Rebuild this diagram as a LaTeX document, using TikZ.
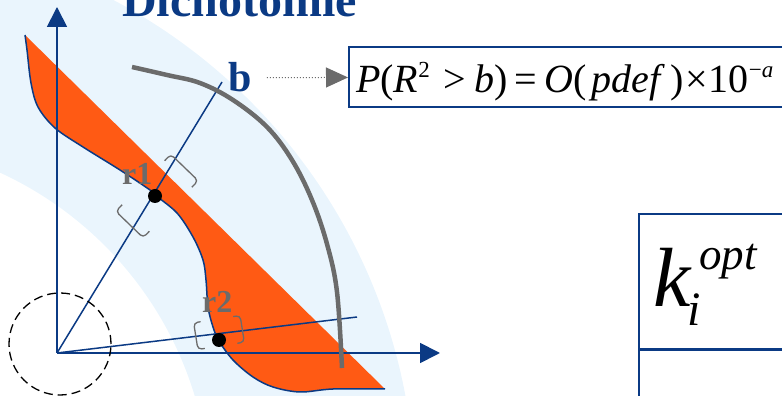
\documentclass[tikz,border=0pt]{standalone}
\usepackage{fontspec}
\setmainfont{Liberation Serif}
\usetikzlibrary{arrows.meta}
\definecolor{axisblue}{HTML}{0B3A84}
\definecolor{bandorange}{HTML}{FF5A14}
\definecolor{curvegray}{HTML}{6B6B6B}
\definecolor{bgblue}{HTML}{EAF5FD}
\newcommand{\bandcurve}{plot[smooth,tension=0.55] coordinates {(25,361) (27,346) (31,313) (38,289) (55,268) (83,249) (120,226) (150,206) (155,201) (177,183) (193,159) (203,136) (206,116) (208,89) (213,69) (219,55) (233,36) (253,19) (273,9) (300,4) (333,7) (385,7)}}
\newcommand{\sups}[1]{\raisebox{15pt}{\fontsize{23}{23}\selectfont #1}}

\begin{document}
\begin{tikzpicture}[x=1pt,y=1pt,
  ax/.style={draw=axisblue,line width=1.8pt,-{Triangle[length=20pt,width=20pt]}},
  ray/.style={draw=axisblue,line width=1.5pt},
  brk/.style={draw=curvegray,line width=1.3pt,rounded corners=4pt},
  rlbl/.style={text=curvegray,font=\bfseries\fontsize{32}{32}\selectfont,anchor=base west,inner sep=0pt},
  hit/.style={circle,fill=black,minimum size=14pt,inner sep=0pt},
  cell/.style={draw=axisblue,line width=1.8pt,inner sep=0pt},
]
\useasboundingbox (0,0) rectangle (782,396);
% background band
\fill[bgblue,even odd rule] (-150,-104) circle (565pt) (-150,-104) circle (360pt);
% orange region
\fill[bandorange] \bandcurve -- cycle;
\draw[axisblue,line width=1.5pt] \bandcurve;
% axes and rays
\coordinate (O) at (57,43);
\coordinate (ytip) at (57,389);
\coordinate (xtip) at (440,43);
\coordinate (bend) at (222,314);
\coordinate (rend) at (357,79);
\draw[ax] (O) -- (ytip);
\draw[ax] (O) -- (xtip);
\draw[ray] (O) -- (bend);
\draw[ray] (O) -- (rend);
% limit curve
\draw[curvegray,line width=4.5pt] plot[smooth,tension=0.6] coordinates {(132,329) (167,321) (200,313) (233,296) (267,269) (292,236) (312,196) (327,152) (337,104) (342,28)};
% neighbourhood of the origin
\draw[black,line width=1.3pt,dash pattern=on 9pt off 5pt] (60,52) circle (51pt);
% intersection points
\node[hit] (r1) at (155,200) {};
\node[hit] (r2) at (219,56) {};
\begin{scope}[shift={(157,200)},rotate=46]
  \foreach \s in {1,-1}{\draw[brk] (\s*39.6-\s*9,19) -- (\s*39.6,19) -- (\s*39.6,-19) -- (\s*39.6-\s*9,-19);}
\end{scope}
\begin{scope}[shift={(219,63.5)},rotate=9]
  \foreach \s in {1,-1}{\draw[brk] (\s*23.5-\s*7,13.5) -- (\s*23.5,13.5) -- (\s*23.5,-13.5) -- (\s*23.5-\s*7,-13.5);}
\end{scope}
\node[rlbl] (r1lbl) at (122,211) {r1};
\node[rlbl] (r2lbl) at (202,83) {r2};
% title and labels
\node[anchor=base west,inner sep=0pt,text=axisblue,font=\bfseries\fontsize{48}{48}\selectfont] (title) at (122,379) {Dichotomie};
\node[anchor=base west,inner sep=0pt,text=axisblue,font=\bfseries\fontsize{42}{42}\selectfont] (blbl) at (228,304) {b};
% probability box
\node[cell,minimum width=460pt,minimum height=60pt,anchor=south west] (fbox) at (348,288) {};
\node[anchor=base west,inner sep=0pt,font=\fontsize{40}{42}\selectfont] (prob) at (356,303)
  {\textit{P}(\textit{R}\sups{2}\hspace{14pt}>\hspace{8pt}\textit{b})\hspace{7pt}=\hspace{7pt}\textit{O}(\hspace{5pt}\textit{pdef}\hspace{5pt})\hspace{2pt}×\hspace{1pt}10\sups{−\textit{a}}};
\draw[curvegray,line width=1pt,dotted,-{Triangle[length=22pt,width=20pt]},shorten <=15pt] (blbl) -- (fbox);
% table
\node[cell,minimum width=200pt,minimum height=220pt,anchor=north west] (tab) at (638,183) {};
\coordinate (cut) at (638,46);
\draw[axisblue,line width=3pt] (cut) -- (cut -| tab.east);
\node[anchor=base west,inner sep=0pt,font=\itshape\fontsize{84}{84}\selectfont] (kopt) at (653,89)
  {k\hspace{-3pt}\rlap{\raisebox{-19pt}{\fontsize{48}{48}\selectfont i}}\hspace{12pt}\raisebox{37pt}{\fontsize{45}{45}\selectfont opt}};
\end{tikzpicture}
\end{document}
